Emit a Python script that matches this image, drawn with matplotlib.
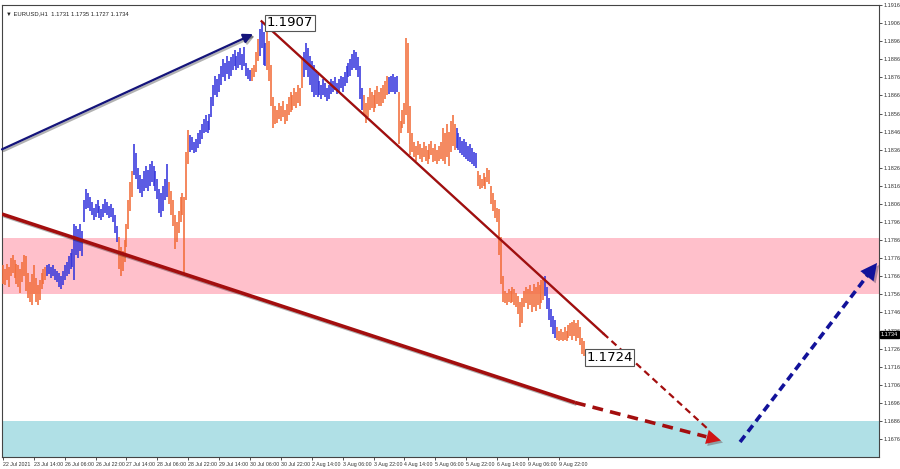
import matplotlib
import numpy as np
from matplotlib import pyplot as plt
from matplotlib import patheffects as pe
from matplotlib.transforms import blended_transform_factory

matplotlib.use("Agg")
matplotlib.rcParams["font.family"] = ["DejaVu Sans"]

# hourly bars, high / low in pips above 1.1700
highs_pips = [
    72, 70, 73, 71, 76, 78, 75, 73, 72, 70, 74, 78, 77, 68, 63, 67, 72, 65, 61, 64, 68, 70, 71,
    72, 73, 71, 72, 70, 69, 68, 66, 69, 72, 74, 77, 79, 81, 95, 94, 92, 95, 91, 108, 114, 112,
    110, 107, 104, 106, 108, 105, 103, 106, 109, 107, 105, 106, 104, 100, 94,
    88, 82, 80, 86, 95, 108, 118, 124,
    139, 134, 126, 122, 120, 124, 127, 125, 128, 130, 127, 124, 120, 114, 112, 116, 120, 128,
    118, 113, 108, 100, 96, 102, 110, 112, 110, 135, 147,
    144, 143, 140, 142, 145, 147, 150, 153, 155, 152, 156, 165, 172, 177, 175, 178,
    182, 186, 184, 188, 185, 187, 189, 191, 188, 190, 192, 189, 193, 184, 181, 180,
    181, 183, 190, 197,
    203, 207, 201, 195,
    203, 196, 183, 165, 160, 158, 162, 160, 163, 158, 161, 165, 168, 166, 170, 168, 172, 170, 186,
    190, 195, 192, 188, 185, 183, 180, 178, 174, 172, 175, 173, 170, 172, 175,
    174, 176, 173, 175, 177, 176, 179, 182, 184, 186, 189, 191, 190, 187, 182, 170,
    166, 162, 165, 170, 168, 166, 169, 171, 168, 170, 172, 174, 177,
    176, 177, 178, 176, 177,
    168, 152, 158, 162, 198, 195, 160, 145, 140, 138, 141, 139, 137, 140, 138, 136, 139, 141,
    137, 139, 136, 138, 140, 148, 145, 150, 146, 152, 155, 150,
    148, 145, 143, 141, 142, 140, 138, 139, 137, 135, 134,
    124, 122, 120, 123, 121, 126, 125, 116, 112, 108, 104, 103, 88, 66,
    58, 57, 59, 58, 60, 59, 57, 55, 52, 54, 58, 60, 59, 61, 58, 62, 60, 63, 61, 64, 65,
    66, 60, 54, 48, 44, 42,
    38, 36, 37, 35, 38, 36, 39, 40, 41, 42, 40, 42, 38, 32, 30,
]
lows_pips = [
    62, 61, 64, 60, 66, 68, 65, 62, 60, 57, 63, 66, 58, 54, 52, 50, 56, 52, 50, 53, 59, 62, 64,
    66, 67, 65, 66, 64, 63, 60, 59, 61, 64, 66, 67, 70, 71, 64, 78, 76, 80, 77, 96, 103, 104,
    102, 100, 97, 99, 101, 98, 97, 99, 101, 100, 98, 99, 96, 90, 85,
    70, 66, 69, 74, 82, 92, 102, 110,
    122, 120, 114, 112, 110, 113, 115, 113, 116, 118, 116, 113, 109, 101, 99, 102, 108, 110,
    106, 100, 94, 81, 85, 90, 96, 100, 68, 108, 128,
    135, 136, 134, 135, 137, 139, 142, 145, 146, 145, 147, 154, 160, 166, 165, 168,
    172, 176, 174, 178, 175, 177, 180, 182, 180, 181, 183, 180, 182, 177, 175, 174,
    174, 176, 179, 185,
    188, 192, 183, 182,
    180, 174, 160, 148, 150, 151, 153, 152, 154, 150, 152, 155, 157, 158, 160, 159, 162, 160, 170,
    176, 180, 176, 172, 168, 165, 166, 165, 166, 164, 166, 165, 163, 164, 167,
    168, 169, 167, 168, 170, 168, 171, 173, 176, 177, 180, 181, 180, 176, 164, 158,
    155, 151, 154, 158, 159, 157, 159, 161, 160, 160, 162, 164, 166,
    167, 168, 168, 167, 168,
    139, 145, 148, 150, 155, 145, 133, 135, 132, 130, 133, 131, 129, 132, 130, 128, 131, 133,
    129, 130, 128, 130, 131, 130, 128, 132, 127, 135, 138, 136,
    137, 136, 134, 133, 132, 131, 130, 129, 128, 127, 126,
    116, 114, 115, 116, 114, 118, 117, 106, 102, 98, 96, 78, 62, 52,
    51, 50, 52, 51, 52, 50, 49, 45, 38, 40, 49, 51, 48, 50, 46, 49, 47, 50, 48, 51, 53,
    55, 48, 42, 38, 34, 32,
    31, 30, 31, 30, 31, 30, 32, 33, 31, 33, 30, 32, 28, 23, 22,
]
# wave colouring: first bar of each segment, segments alternate orange / blue
segment_starts = [0, 23, 60, 68, 86, 97, 129, 133, 137, 156, 187, 200, 205, 235, 246, 281, 287]
segment_colors = ["down", "up"] * 9

x_labels = ["22 Jul 2021", "23 Jul 14:00", "26 Jul 06:00", "26 Jul 22:00", "27 Jul 14:00",
            "28 Jul 06:00", "28 Jul 22:00", "29 Jul 14:00", "30 Jul 06:00", "30 Jul 22:00",
            "2 Aug 14:00", "3 Aug 06:00", "3 Aug 22:00", "4 Aug 14:00", "5 Aug 06:00",
            "5 Aug 22:00", "6 Aug 14:00", "9 Aug 06:00", "9 Aug 22:00"]
bars_per_label = 16

resistance_zone = (1.1756, 1.1787)
target_zone = (1.1600, 1.16859)
peak_price = 1.1907
last_low = 1.1724
last_close = 1.1734

colors = {"up": "#3535dc", "down": "#f26d3a"}
navy = "#14147a"
dark_red = "#a30e0e"
tick_font = "Liberation Sans"

highs = 1.17 + np.array(highs_pips) / 10000
lows = 1.17 + np.array(lows_pips) / 10000
idx = np.arange(len(highs))

fig = plt.figure(figsize=(9, 4.69), dpi=100)
ax = fig.add_axes([2 / 900, 12 / 469, 877 / 900, 452 / 469])
ax.set_xlim(-0.5, 453.9)
ax.set_ylim(1.16661, 1.19149)

# zones
ax.axhspan(*resistance_zone, color="#ffc0cb", zorder=0, lw=0)
ax.axhspan(*target_zone, color="#b0e0e6", zorder=0, lw=0)

# bars
ends = segment_starts[1:] + [len(highs)]
for s, e, c in zip(segment_starts, ends, segment_colors):
    ax.vlines(idx[s:e], lows[s:e], highs[s:e], color=colors[c], lw=1.15, zorder=3)

shadow = [pe.SimpleLineShadow(offset=(1.2, -1.2), alpha=0.3), pe.Normal()]
head_shadow = [pe.SimplePatchShadow(offset=(1.5, -1.5), alpha=0.3), pe.Normal()]


def along(p0, p1, f):
    return p0 + (p1 - p0) * f


# upward navy arrow into the peak
ax.annotate("", xy=(129.6, 1.18999), xytext=(-0.5, 1.18362),
            arrowprops=dict(arrowstyle="-|>", color=navy, lw=1.6, mutation_scale=14,
                            shrinkA=0, shrinkB=0, path_effects=shadow), zorder=5)

# thin red line from the peak
a0 = np.array([134, peak_price])
a1 = np.array([372.6, 1.16744])
am = along(a0, a1, 0.742)
ae = along(a0, a1, 0.97)
ax.plot([a0[0], am[0]], [a0[1], am[1]], color=dark_red, lw=1.6, zorder=4, path_effects=shadow)
ax.plot([am[0], ae[0]], [am[1], ae[1]], color=dark_red, lw=1.6, ls=(0, (3, 2)), zorder=4)

# thick red line
b0 = np.array([-0.5, 1.18004])
bm = np.array([296.4, 1.16962])
b1 = np.array([372.0, 1.16752])
be = along(bm, b1, 0.9)
ax.plot([b0[0], bm[0]], [b0[1], bm[1]], color=dark_red, lw=2.6, zorder=4,
        path_effects=shadow, solid_capstyle="butt")
ax.plot([bm[0], be[0]], [bm[1], be[1]], color=dark_red, lw=2.6, ls=(0, (3, 2)), zorder=4)

# red arrowhead at the target
hs = along(bm, b1, 0.8)
ax.annotate("", xy=tuple(b1), xytext=tuple(hs),
            arrowprops=dict(arrowstyle="-|>", color="#d01515", lw=0, mutation_scale=26,
                            shrinkA=0, shrinkB=0, path_effects=head_shadow), zorder=6)

# dashed navy arrow back up
c0 = np.array([381.9, 1.16744])
c1 = np.array([452.9, 1.17734])
ce = along(c0, c1, 0.93)
ax.plot([c0[0], ce[0]], [c0[1], ce[1]], color="#12129a", lw=2.6, ls=(0, (2.2, 1.4)), zorder=5)
ax.annotate("", xy=tuple(c1), xytext=tuple(along(c0, c1, 0.8)),
            arrowprops=dict(arrowstyle="-|>", color="#12129a", lw=0, mutation_scale=30,
                            shrinkA=0, shrinkB=0, path_effects=head_shadow), zorder=6)

# price labels
box = dict(boxstyle="square,pad=0.12", fc="white", ec="#555555", lw=0.8)
ax.text(136.6, 1.19061, "1.1907", fontsize=9.5, ha="left", va="center", bbox=box, zorder=7)
ax.text(302.3, 1.17211, "1.1724", fontsize=9.5, ha="left", va="center", bbox=box, zorder=7)

# title line
ax.text(0.004, 0.985, "\u25bc EURUSD,H1  1.1731 1.1735 1.1727 1.1734", transform=ax.transAxes,
        fontsize=4.2, ha="left", va="top", color="#222222", family=tick_font)

# axes
ax.yaxis.tick_right()
yt = np.arange(11676, 11917, 10) / 10000
ax.set_yticks(yt)
ax.set_yticklabels([f"{v:.4f}" for v in yt], family=tick_font)
ax.set_xticks(np.arange(len(x_labels)) * bars_per_label)
ax.set_xticklabels(x_labels, ha="left", family=tick_font)
ax.tick_params(axis="x", labelsize=3.8, length=2.5, width=0.6, colors="#333333", pad=1.2)
ax.tick_params(axis="y", labelsize=4.0, length=2, width=0.6, colors="#333333", pad=1.0)
for sp in ax.spines.values():
    sp.set_color("#444444")
    sp.set_linewidth(0.8)

trans = blended_transform_factory(ax.transAxes, ax.transData)
ax.text(1.002, last_close, f"{last_close:.4f}", transform=trans, fontsize=4.0, color="white",
        ha="left", va="center", family=tick_font,
        bbox=dict(boxstyle="square,pad=0.15", fc="black", ec="black"), zorder=8, clip_on=False)

fig.savefig("out.png", dpi=100)
